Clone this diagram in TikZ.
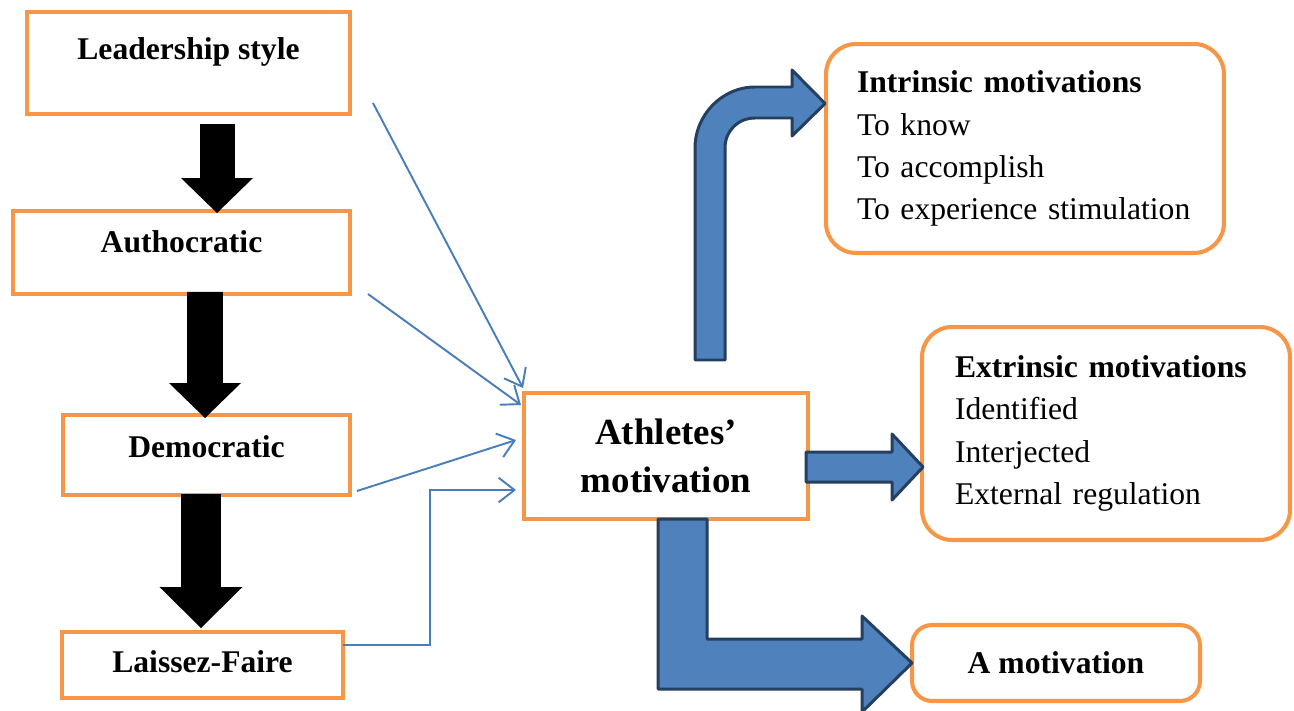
\documentclass[tikz,border=0pt]{standalone}
\usepackage{fontspec}
\setmainfont{Liberation Serif}
\usetikzlibrary{arrows.meta,calc}

\definecolor{boxorange}{HTML}{F79646}
\definecolor{linkblue}{HTML}{4A7EBB}
\definecolor{fatblue}{HTML}{4F81BD}
\definecolor{fatedge}{HTML}{243F60}

\begin{document}
\begin{tikzpicture}[
		x=0.02cm, y=-0.02cm,
		box/.style={rectangle, draw=boxorange, line width=2.3pt, fill=white, outer sep=0pt, font=\fontsize{18}{24}\selectfont\bfseries, text height=12pt, text depth=12pt},
		rbox/.style={rectangle, draw=boxorange, line width=2.3pt, fill=white, outer sep=0pt, rounded corners=0.6cm, font=\fontsize{18}{24}\selectfont, align=left},
		link/.style={linkblue, line width=1.1pt, -{Straight Barb[length=9pt,width=14pt]}},
		blk/.style={line width=0.7cm, -{Triangle[length=0.7cm,width=1.44cm,line width=0pt]}},
		fat/.style={fill=fatblue, draw=fatedge, line width=1.7pt, line join=round}
		]
		
		\path[use as bounding box, fill=white] (0,0) rectangle (1294,710);
		
		\node (lead) at (188.5,63) [box, minimum width=6.46cm, minimum height=2.04cm, text depth=16pt] {Leadership style};
		\node (auth) at (181.5,252.5) [box, minimum width=6.74cm, minimum height=1.66cm] {Authocratic};
		\node (demo) at (206.5,455) [box, minimum width=5.74cm, minimum height=1.6cm, text depth=9pt] {Democratic};
		\node (laissez) at (202.5,665) [box, minimum width=5.62cm, minimum height=1.32cm, text depth=4pt] {Laissez-Faire};
		\node (ath) at (666,456) [box, minimum width=5.68cm, minimum height=2.52cm, text height=, text depth=, align=center, font=\fontsize{21}{27}\selectfont\bfseries] {Athletes’\\motivation};
		\node (intr) at (1025,148.5) [rbox, text width=6.72cm, inner xsep=0.62cm, minimum height=4.18cm] {\textbf{Intrinsic motivations}\\To know\\To accomplish\\To experience stimulation};
		\node (extr) at (1106,433.5) [rbox, text width=6.04cm, inner xsep=0.66cm, minimum height=4.26cm] {\textbf{Extrinsic motivations}\\Identified\\Interjected\\External regulation};
		\node (amot) at (1056,663) [rbox, rounded corners=0.4cm, minimum width=5.76cm, minimum height=1.52cm, text height=16pt, text depth=4pt, font=\fontsize{18}{24}\selectfont\bfseries] {A motivation};
		
		\draw [blk] ($(lead.south)+(28.5,10)$) -- ($(auth.north)+(35.5,2)$);
		\draw [blk, line width=0.72cm] ($(auth.south)+(23.5,-2)$) -- ($(demo.north)+(-1.5,3)$);
		\draw [blk, line width=0.8cm, -{Triangle[length=0.82cm,width=1.66cm,line width=0pt]}] ($(demo.south)+(-5.5,-1)$) -- ($(laissez.north)+(-1.5,-4)$);
		
		\draw [link] ($(lead.south east)+(23,-11)$) -- ($(ath.north west)+(-1,-5)$);
		\draw [link] ($(auth.south east)+(18,0)$) -- ($(ath.north west)+(-3,12)$);
		\draw [link] ($(demo.south east)+(7,-4)$) -- ($(ath.west)+(-8,-16)$);
		\draw [link] ($(laissez.east)+(0,-20)$) -- ++(87,0) |- ($(ath.west)+(-8,34)$);
		
		\draw [fat] (695,360) -- (695,148) .. controls (695,115) and (722,87) .. (755,87) -- (792,87) -- (792,70) -- ($(intr.west)+(-1,-45)$) -- (792,136) -- (792,118) -- (755,118) .. controls (738,118) and (725,131) .. (725,148) -- (725,360) -- cycle;
		\draw [fat] (806,452) -- (892,452) -- (892,434) -- ($(extr.west)+(1,33.5)$) -- (892,500) -- (892,482) -- (806,482) -- cycle;
		\draw [fat] (658,519) -- (658,689) -- (862,689) -- (862,712) -- (amot.west) -- (862,616) -- (862,639) -- (707,639) -- (707,519) -- cycle;
	\end{tikzpicture}
\end{document}
